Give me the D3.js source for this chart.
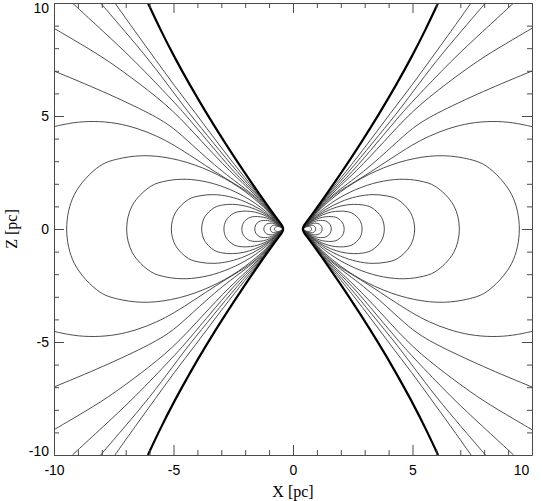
<!DOCTYPE html>
<html><head><meta charset="utf-8">
<script src="https://cdn.jsdelivr.net/npm/d3@7"></script>
<style>body{margin:0;background:#fff}svg{display:block}</style>
</head><body>
<svg id="c" width="542" height="501"></svg>
<script>
// ---- data (upper-left quadrant of each contour, X/Z in pc; figure is mirror-symmetric) ----
const majorTicks = [-10, -5, 0, 5, 10];
const minorTicks = [-9,-8,-7,-6,-4,-3,-2,-1,1,2,3,4,6,7,8,9];
const tickLabels = ["-10", "-5", "0", "5", "10"];
const xTitle = "X [pc]";
const zTitle = "Z [pc]";

// thick boundary line
const boundary = [[-6.07,10],[-5.54,8.8],[-4.96,7.6],[-4.28,6.3],[-3.62,5.12],[-2.84,3.8],[-2.03,2.5],[-1.38,1.5],[-0.91,0.8],[-0.6,0.36],[-0.47,0.18],[-0.42,0.06],[-0.41,0]];

// open contours leaving the frame
const openLines = [
  [[-7.45,10],[-6.6,8.73],[-5.74,7.48],[-4.98,6.36],[-4.07,5.12],[-3.15,3.8],[-2.19,2.5],[-1.42,1.5],[-0.93,0.8],[-0.61,0.33],[-0.45,0.09],[-0.42,0]],
  [[-8.05,10],[-7.03,8.74],[-6.02,7.48],[-4.98,6.02],[-4.35,5.12],[-3.32,3.8],[-2.32,2.5],[-1.45,1.5],[-0.95,0.8],[-0.62,0.33],[-0.46,0.09],[-0.42,0]],
  [[-9.23,10],[-7.94,8.74],[-6.65,7.48],[-4.98,5.62],[-4.55,5.12],[-3.5,3.8],[-2.47,2.5],[-1.49,1.5],[-0.97,0.8],[-0.63,0.33],[-0.46,0.09],[-0.42,0]],
  [[-10,8.88],[-8.9,8.2],[-7.77,7.48],[-6.4,6.42],[-5.0,5.25],[-3.8,3.85],[-2.65,2.55],[-1.55,1.5],[-0.99,0.8],[-0.64,0.33],[-0.47,0.09],[-0.42,0]],
  [[-10,6.99],[-8.0,6.12],[-5.82,5.04],[-4.98,4.46],[-4.3,3.8],[-2.95,2.5],[-1.6,1.5],[-1.01,0.8],[-0.65,0.33],[-0.47,0.09],[-0.42,0]],
  [[-10,4.53],[-9.2,4.72],[-8.33,4.78],[-7.4,4.7],[-6.51,4.46],[-5.7,4.12],[-4.98,3.72],[-4.1,3.12],[-3.22,2.5],[-2.45,2.0],[-1.66,1.5],[-1.03,0.8],[-0.66,0.33],[-0.48,0.09],[-0.42,0]]
];

// closed loops crossing the equator
const loops = [
  [[-9.47,0],[-9.14,1.54],[-8.08,2.79],[-7.14,3.14],[-6.02,3.24],[-4.76,3.04],[-3.47,2.56],[-2.28,1.86],[-1.23,0.97],[-0.75,0.43],[-0.42,0]],
  [[-6.96,0],[-6.72,1.05],[-5.95,1.89],[-5.28,2.13],[-4.47,2.2],[-3.56,2.07],[-2.62,1.74],[-1.76,1.26],[-1.01,0.66],[-0.66,0.29],[-0.42,0]],
  [[-5.09,0],[-4.92,0.72],[-4.37,1.31],[-3.89,1.47],[-3.31,1.52],[-2.66,1.43],[-1.99,1.2],[-1.38,0.87],[-0.84,0.45],[-0.59,0.2],[-0.42,0]],
  [[-3.82,0],[-3.70,0.52],[-3.30,0.94],[-2.95,1.06],[-2.53,1.09],[-2.05,1.03],[-1.57,0.87],[-1.12,0.63],[-0.73,0.33],[-0.54,0.15],[-0.42,0]],
  [[-2.89,0],[-2.80,0.38],[-2.51,0.68],[-2.26,0.77],[-1.95,0.79],[-1.60,0.75],[-1.25,0.63],[-0.93,0.46],[-0.64,0.24],[-0.51,0.11],[-0.42,0]],
  [[-2.14,0],[-2.08,0.26],[-1.87,0.48],[-1.70,0.54],[-1.49,0.55],[-1.24,0.52],[-1.0,0.44],[-0.77,0.32],[-0.58,0.17],[-0.48,0.07],[-0.42,0]],
  [[-1.6,0],[-1.56,0.18],[-1.42,0.33],[-1.30,0.37],[-1.15,0.38],[-0.99,0.36],[-0.82,0.30],[-0.66,0.22],[-0.53,0.11],[-0.46,0.05],[-0.42,0]],
  [[-1.22,0],[-1.19,0.12],[-1.10,0.22],[-0.92,0.26],[-0.80,0.24],[-0.69,0.2],[-0.58,0.15],[-0.49,0.08],[-0.42,0]],
  [[-0.95,0],[-0.93,0.08],[-0.87,0.146],[-0.75,0.17],[-0.60,0.135],[-0.47,0.06],[-0.42,0]],
  [[-0.78,0],[-0.76,0.06],[-0.70,0.1],[-0.62,0.11],[-0.53,0.085],[-0.45,0.035],[-0.42,0]]
];

// ---- drawing ----
const svg = d3.select("#c");
const xs = d3.scaleLinear().domain([-10, 10]).range([54, 532]);
const zs = d3.scaleLinear().domain([-10, 10]).range([455, 3]);

svg.append("defs").append("clipPath").attr("id", "clip")
  .append("rect").attr("x", xs(-10)).attr("y", zs(10))
  .attr("width", xs(10) - xs(-10)).attr("height", zs(-10) - zs(10));

const plot = svg.append("g").attr("clip-path", "url(#clip)");
const lineOpen = d3.line().x(d => xs(d[0])).y(d => zs(d[1])).curve(d3.curveBasis);
const lineClosed = d3.line().x(d => xs(d[0])).y(d => zs(d[1])).curve(d3.curveCatmullRomClosed.alpha(0.5));

function fullOpen(pts) { // upper branch + mirrored lower branch through the tip
  return pts.concat(pts.slice(0, -1).reverse().map(([x, z]) => [x, -z]));
}
function fullLoop(pts) {
  return pts.concat(pts.slice(1, -1).reverse().map(([x, z]) => [x, -z]));
}
const flipX = arr => arr.map(([x, z]) => [-x, z]);

[1, -1].forEach(side => {
  const f = side === 1 ? (a => a) : flipX;
  loops.forEach(p => plot.append("path").attr("d", lineClosed(f(fullLoop(p))))
    .attr("fill", "none").attr("stroke", "#3a3a3a").attr("stroke-width", 0.9));
  openLines.forEach(p => plot.append("path").attr("d", lineOpen(f(fullOpen(p))))
    .attr("fill", "none").attr("stroke", "#3a3a3a").attr("stroke-width", 0.9));
  plot.append("path").attr("d", lineOpen(f(fullOpen(boundary))))
    .attr("fill", "none").attr("stroke", "#000").attr("stroke-width", 2.2);
});

// ---- axes (ticks inward on all four sides) ----
const axisColor = "#4a4a4a";
function styleAxis(sel) {
  sel.select(".domain").attr("stroke", axisColor).attr("stroke-width", 1);
  sel.selectAll(".tick line").attr("stroke", axisColor).attr("stroke-width", 1);
  sel.selectAll("text").attr("font-family", "Liberation Sans, Arial, sans-serif")
    .attr("font-size", 14).attr("fill", "#000");
}
const fmt = d => tickLabels[majorTicks.indexOf(d)];

const axB = svg.append("g").attr("transform", `translate(0,${zs(-10)})`)
  .call(d3.axisBottom(xs).tickValues(majorTicks).tickSize(-10).tickSizeOuter(0).tickPadding(10).tickFormat(fmt));
axB.append("g").call(d3.axisBottom(xs).tickValues(minorTicks).tickSize(-5).tickSizeOuter(0).tickFormat(""))
  .select(".domain").remove();
styleAxis(axB);
axB.selectAll(".tick text").filter(d => d === 10).attr("dx", -11);

const axT = svg.append("g").attr("transform", `translate(0,${zs(10)})`)
  .call(d3.axisTop(xs).tickValues(majorTicks).tickSize(-10).tickSizeOuter(0).tickFormat(""));
axT.append("g").call(d3.axisTop(xs).tickValues(minorTicks).tickSize(-5).tickSizeOuter(0).tickFormat(""))
  .select(".domain").remove();
styleAxis(axT);

const axL = svg.append("g").attr("transform", `translate(${xs(-10)},0)`)
  .call(d3.axisLeft(zs).tickValues(majorTicks).tickSize(-10).tickSizeOuter(0).tickPadding(5).tickFormat(fmt));
axL.append("g").call(d3.axisLeft(zs).tickValues(minorTicks).tickSize(-5).tickSizeOuter(0).tickFormat(""))
  .select(".domain").remove();
styleAxis(axL);
axL.selectAll(".tick text").filter(d => d === 10).attr("dy", "0.7em");
axL.selectAll(".tick text").filter(d => d === -10).attr("dy", "0em");

const axR = svg.append("g").attr("transform", `translate(${xs(10)},0)`)
  .call(d3.axisRight(zs).tickValues(majorTicks).tickSize(-10).tickSizeOuter(0).tickFormat(""));
axR.append("g").call(d3.axisRight(zs).tickValues(minorTicks).tickSize(-5).tickSizeOuter(0).tickFormat(""))
  .select(".domain").remove();
styleAxis(axR);

// ---- titles ----
svg.append("text").attr("x", xs(0)).attr("y", 497).attr("text-anchor", "middle")
  .attr("font-family", "Liberation Serif, Times New Roman, serif").attr("font-size", 16).text(xTitle);
svg.append("text").attr("transform", `translate(17,${zs(0)}) rotate(-90)`).attr("text-anchor", "middle")
  .attr("font-family", "Liberation Serif, Times New Roman, serif").attr("font-size", 16).text(zTitle);
</script>
</body></html>
